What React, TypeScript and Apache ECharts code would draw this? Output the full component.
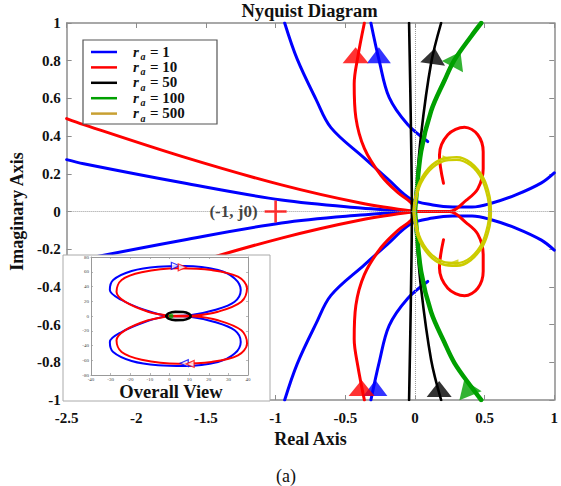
import React, { useEffect, useRef } from "react";
import * as echarts from "echarts";

type P = [number, number];

// ---------- main plot data (upper halves, Nyquist plots are symmetric about the real axis) ----------
const blueLeftUpper: P[] = [[-2.5, 0.275], [-2.378, 0.253], [-1.668, 0.152], [-0.958, 0.061], [-0.39, 0.019], [0, 0]];
const blueArcUpper: P[] = [[-0.935, 1.0], [-0.845, 0.808], [-0.71, 0.595], [-0.603, 0.445], [-0.363, 0.283], [-0.196, 0.173], [-0.028, 0.065], [0.128, 0.035], [0.27, 0.024], [0.41, 0.024], [0.554, 0.045], [0.724, 0.088], [0.908, 0.152], [1.0, 0.205]];
const blueHookUpper: P[] = [[0.092, 0.371], [-0.052, 0.461], [-0.185, 0.605], [-0.255, 0.795], [-0.316, 1.0]];
const redLeftUpper: P[] = [[-2.5, 0.493], [-2.378, 0.461], [-1.668, 0.291], [-0.958, 0.141], [-0.39, 0.045], [0, 0]];
const redArcUpper: P[] = [[-0.363, 1.0], [-0.41, 0.82], [-0.436, 0.677], [-0.424, 0.498], [-0.363, 0.335], [-0.243, 0.191], [-0.124, 0.101], [-0.028, 0.047], [0, 0]];
const redLoopUpper: P[] = [[0, 0], [0.248, 0], [0.369, 0.06], [0.451, 0.12], [0.49, 0.227], [0.49, 0.317], [0.451, 0.407], [0.356, 0.447], [0.236, 0.407], [0.176, 0.299], [0.205, 0.15]];
const blackStraightUpper: P[] = [[-0.022, 0], [-0.03, 0.5], [-0.042, 1.0]];
const blackCurveUpper: P[] = [[0, 0], [0.004, 0.065], [0.044, 0.407], [0.116, 0.786], [0.188, 1.0]];
const greenUpper: P[] = [[0, 0], [0.008, 0.065], [0.044, 0.317], [0.116, 0.533], [0.212, 0.695], [0.284, 0.804], [0.404, 0.93], [0.476, 1.0]];
const yellowOuterUpper: P[] = [[-0.01, 0], [0.02, 0.13], [0.1, 0.23], [0.2, 0.28], [0.3, 0.288], [0.4, 0.258], [0.49, 0.178], [0.535, 0.08], [0.545, 0]];
const yellowInnerUpper: P[] = [[0.0, 0], [0.03, 0.125], [0.105, 0.217], [0.2, 0.266], [0.3, 0.274], [0.4, 0.244], [0.48, 0.17], [0.522, 0.075], [0.533, 0]];

// arrow heads
const blueArrows: P[] = [[-0.259, 0.829], [-0.284, -0.936]];
const redArrows: P[] = [[-0.426, 0.829], [-0.383, -0.936]];
const blackArrows: P[] = [[0.135, 0.824], [0.174, -0.941]];
const greenArrows: P[] = [[0.298, 0.808], [0.376, -0.936]];
const yellowArrows: P[] = [[0.23, 0.28], [0.28, -0.272]];
const criticalPoint: P[] = [[-1, 0]];

// ---------- inset (overall view) data ----------
const insetBlueUpper: P[] = [[0, 0], [-2.4, 0.5], [-12.6, 8.1], [-24.4, 21.7], [-30.4, 35.2], [-28.7, 48.8], [-19.3, 61], [-5.8, 66.8], [7.8, 67.8], [24.7, 62.3], [33.2, 51], [36.3, 35.2], [33.2, 19.4], [23, 8.1], [11.2, 1.4], [0, 0]];
const insetRedUpper: P[] = [[0, 0], [-0.7, 0.3], [-10.9, 5.8], [-22.7, 19.4], [-27, 33], [-24.4, 48.8], [-14.2, 59.2], [4.4, 64.6], [21.4, 62.3], [34.9, 53.3], [39.5, 37.5], [36.6, 19.4], [24.7, 5.8], [12.9, 0.8], [0, 0]];
const insetBlackUpper: P[] = [[-1.7, 0], [-0.5, 3.5], [3, 5.6], [7, 5.4], [10, 3], [10.8, 0]];
const insetRedCenter: P[] = [[2, 0], [9, 0]];
const insetGreenDot: P[] = [[0.8, 0]];
const insetBlueArrows: P[] = [[3, 68], [7.5, -64]];
const insetRedArrows: P[] = [[6.5, 66], [10.5, -65]];

// axis ticks
const xMain = { min: -2.5, max: 1, interval: 0.5 };
const yMain = { min: -1, max: 1, interval: 0.2 };
const xInset = { min: -40, max: 40, interval: 10 };
const yInset = { min: -80, max: 80, interval: 20 };

// legend
const legendValues = ["1", "10", "50", "100", "500"];
const legendColors = ["#0000ff", "#ff0000", "#000000", "#00a000", "#c8a032"];

const FONT = "'Liberation Serif','Times New Roman',Times,serif";
const BLUE = "#0000ff";
const RED = "#ff0000";
const BLACK = "#000000";
const GREEN = "#00a000";
const YELLOW = "#cccc00";

const mirror = (a: P[]): P[] => a.map(([x, y]) => [x, -y] as P);
const through = (a: P[]): P[] => [...mirror(a).reverse(), ...a.slice(1)];
const loop = (a: P[]): P[] => [...a, ...mirror(a).reverse().slice(1)];

function line(data: P[], color: string, width: number, inset = false, z = 2) {
  return {
    type: "line",
    data,
    xAxisIndex: inset ? 2 : 0,
    yAxisIndex: inset ? 2 : 0,
    smooth: 0.35,
    showSymbol: false,
    symbol: "none",
    silent: true,
    z,
    lineStyle: { color, width, cap: "round", join: "round" },
  };
}

function arrows(data: P[], color: string, rot: number[], size: number | number[], inset = false, hollow = false, z = 4) {
  return {
    type: "scatter",
    data: data.map((p, i) => ({ value: p, symbolRotate: rot[i] })),
    xAxisIndex: inset ? 2 : 0,
    yAxisIndex: inset ? 2 : 0,
    symbol: "triangle",
    symbolSize: size,
    silent: true,
    z,
    itemStyle: hollow ? { color: "#ffffff", borderColor: color, borderWidth: 1.2 } : { color },
  };
}

function axisCommon(extra: any) {
  return {
    type: "value",
    splitLine: { show: false },
    axisLine: { show: true, onZero: false, lineStyle: { color: "#8c8c8c", width: 1.5 } },
    axisTick: { show: true, inside: true, length: 5, lineStyle: { color: "#8c8c8c", width: 1 } },
    ...extra,
  };
}

export default function App() {
  const ref = useRef<HTMLDivElement>(null);
  useEffect(() => {
    if (!ref.current) return;
    const chart = echarts.init(ref.current, null, { renderer: "svg" });

    const labelStyle = { color: "#111", fontWeight: "bold", fontSize: 15, fontFamily: FONT };
    const insetLabel = { color: "#444", fontSize: 5, fontFamily: FONT, margin: 2 };
    const insetAxisLine = { show: true, onZero: false, lineStyle: { color: "#999", width: 1 } };
    const insetTick = { show: true, inside: true, length: 2, lineStyle: { color: "#999", width: 0.7 } };

    const legendChildren: any[] = [
      { type: "rect", shape: { x: 83, y: 40, width: 134, height: 84 }, style: { fill: "#fff", stroke: "#555", lineWidth: 1.2 } },
    ];
    legendValues.forEach((v, i) => {
      const y = 52 + i * 15.4;
      legendChildren.push(
        { type: "line", shape: { x1: 91, y1: y, x2: 117, y2: y }, style: { stroke: legendColors[i], lineWidth: 2.5 } },
        { type: "text", x: 133, y: y - 0.5, style: { text: "r", fontSize: 15, fontWeight: "bold", fontStyle: "italic", fontFamily: FONT, fill: "#111", verticalAlign: "middle", align: "left" } },
        { type: "text", x: 140.5, y: y + 4.5, style: { text: "a", fontSize: 10, fontWeight: "bold", fontStyle: "italic", fontFamily: FONT, fill: "#111", verticalAlign: "middle", align: "left" } },
        { type: "text", x: 150, y: y - 0.5, style: { text: "= " + v, fontSize: 15, fontWeight: "bold", fontFamily: FONT, fill: "#111", verticalAlign: "middle", align: "left" } }
      );
    });

    const option: any = {
      animation: false,
      backgroundColor: "#ffffff",
      title: {
        text: "Nyquist Diagram",
        left: 309.5,
        textAlign: "center",
        top: 1,
        padding: 0,
        textStyle: { fontSize: 18.5, fontWeight: "bold", fontFamily: FONT, color: "#111" },
      },
      grid: [
        { left: 63, top: 23, width: 493, height: 377 },
        { left: 91, top: 257, width: 157, height: 118, z: 20 },
      ],
      xAxis: [
        axisCommon({
          gridIndex: 0, position: "bottom", ...xMain,
          axisLabel: { ...labelStyle, margin: 10 },
          name: "Real Axis", nameLocation: "middle", nameGap: 27,
          nameTextStyle: { fontSize: 18, fontWeight: "bold", fontFamily: FONT, color: "#111" },
        }),
        axisCommon({ gridIndex: 0, position: "top", ...xMain, axisLabel: { show: false } }),
        {
          type: "value", gridIndex: 1, position: "bottom", ...xInset, z: 21,
          splitLine: { show: false }, axisLine: insetAxisLine, axisTick: insetTick, axisLabel: insetLabel,
        },
        {
          type: "value", gridIndex: 1, position: "top", ...xInset, z: 21,
          splitLine: { show: false }, axisLine: insetAxisLine, axisTick: insetTick, axisLabel: { show: false },
        },
      ],
      yAxis: [
        axisCommon({
          gridIndex: 0, position: "left", ...yMain,
          axisLabel: { ...labelStyle, margin: 6 },
          name: "Imaginary Axis", nameLocation: "middle", nameGap: 36, nameRotate: 90,
          nameTextStyle: { fontSize: 18, fontWeight: "bold", fontFamily: FONT, color: "#111" },
        }),
        axisCommon({ gridIndex: 0, position: "right", ...yMain, axisLabel: { show: false } }),
        {
          type: "value", gridIndex: 1, position: "left", ...yInset, z: 21,
          splitLine: { show: false }, axisLine: insetAxisLine, axisTick: insetTick, axisLabel: insetLabel,
        },
        {
          type: "value", gridIndex: 1, position: "right", ...yInset, z: 21,
          splitLine: { show: false }, axisLine: insetAxisLine, axisTick: insetTick, axisLabel: { show: false },
        },
      ],
      graphic: [
        { type: "rect", z: 10, shape: { x: 63, y: 255, width: 207, height: 146 }, style: { fill: "#ffffff", stroke: "#aaaaaa", lineWidth: 1 } },
        { type: "text", z: 30, x: 171, y: 392, style: { text: "Overall View", fontSize: 18.5, fontWeight: "bold", fontFamily: FONT, fill: "#111", align: "center", verticalAlign: "middle" } },
        { type: "text", z: 30, x: 286, y: 476, style: { text: "(a)", fontSize: 18, fontFamily: FONT, fill: "#111", align: "center", verticalAlign: "middle" } },
        { type: "group", z: 30, children: legendChildren.map((c) => ({ ...c, z: 30 })) },
      ],
      series: [
        {
          type: "line", data: [[0, 0]], showSymbol: false, symbol: "none", silent: true, z: 1,
          lineStyle: { opacity: 0 },
          markLine: {
            silent: true, symbol: ["none", "none"], label: { show: false },
            lineStyle: { type: "dotted", color: "#9a9a9a", width: 1 },
            data: [{ xAxis: 0 }, { yAxis: 0 }],
          },
        },
        line(blueLeftUpper, BLUE, 3),
        line(mirror(blueLeftUpper), BLUE, 3),
        line(blueArcUpper, BLUE, 3),
        line(mirror(blueArcUpper), BLUE, 3),
        line(blueHookUpper, BLUE, 3),
        line(mirror(blueHookUpper), BLUE, 3),
        line(redLeftUpper, RED, 3),
        line(mirror(redLeftUpper), RED, 3),
        line(redArcUpper, RED, 3),
        line(mirror(redArcUpper), RED, 3),
        line(redLoopUpper, RED, 3),
        line(mirror(redLoopUpper), RED, 3),
        line(through(blackStraightUpper), BLACK, 2.6),
        line(blackCurveUpper, BLACK, 2.6),
        line(mirror(blackCurveUpper), BLACK, 2.6),
        line(greenUpper, GREEN, 4.5),
        line(mirror(greenUpper), GREEN, 4.5),
        line(loop(yellowOuterUpper), YELLOW, 2.6),
        line(loop(yellowInnerUpper), YELLOW, 2.2),
        arrows(blueArrows, BLUE, [0, 0], [24, 16]),
        arrows(redArrows, RED, [0, 0], [26, 16]),
        arrows(blackArrows, BLACK, [-8, 0], [25, 16]),
        arrows(greenArrows, GREEN, [-28, 22], [24, 17]),
        arrows(yellowArrows, YELLOW, [-90, 90], [7, 9]),
        {
          type: "scatter",
          data: criticalPoint,
          symbol: "path://M0,8.8 L20,8.8 L20,11.2 L0,11.2 Z M8.8,0 L11.2,0 L11.2,20 L8.8,20 Z",
          symbolSize: 22,
          silent: true,
          z: 5,
          itemStyle: { color: RED },
          label: {
            show: true, position: "left", distance: 7, formatter: "(-1, j0)",
            fontSize: 17, fontWeight: "bold", fontFamily: FONT, color: "#111",
          },
        },
        // inset
        {
          type: "line", data: [[0, 0]], xAxisIndex: 2, yAxisIndex: 2, showSymbol: false, symbol: "none", silent: true, z: 20,
          lineStyle: { opacity: 0 },
          markLine: {
            silent: true, symbol: ["none", "none"], label: { show: false },
            lineStyle: { type: "solid", color: "#e2e2e2", width: 0.8 },
            data: [{ xAxis: 0 }, { yAxis: 0 }],
          },
        },
        line(insetBlueUpper, BLUE, 2, true, 22),
        line(mirror(insetBlueUpper), BLUE, 2, true, 22),
        line(insetRedUpper, RED, 2, true, 23),
        line(mirror(insetRedUpper), RED, 2, true, 23),
        line(loop(insetBlackUpper), BLACK, 2.6, true, 24),
        line(insetRedCenter, RED, 2.5, true, 25),
        {
          type: "scatter", data: insetGreenDot, xAxisIndex: 2, yAxisIndex: 2, symbol: "circle", symbolSize: 5,
          silent: true, z: 25, itemStyle: { color: GREEN },
        },
        arrows(insetBlueArrows, BLUE, [-90, 90], [7, 8], true, true, 26),
        arrows(insetRedArrows, RED, [-90, 90], [7, 8], true, true, 26),
      ],
    };
    chart.setOption(option);
    return () => chart.dispose();
  }, []);
  return <div ref={ref} style={{ position: "fixed", left: 0, top: 0, width: 561, height: 486 }} />;
}
